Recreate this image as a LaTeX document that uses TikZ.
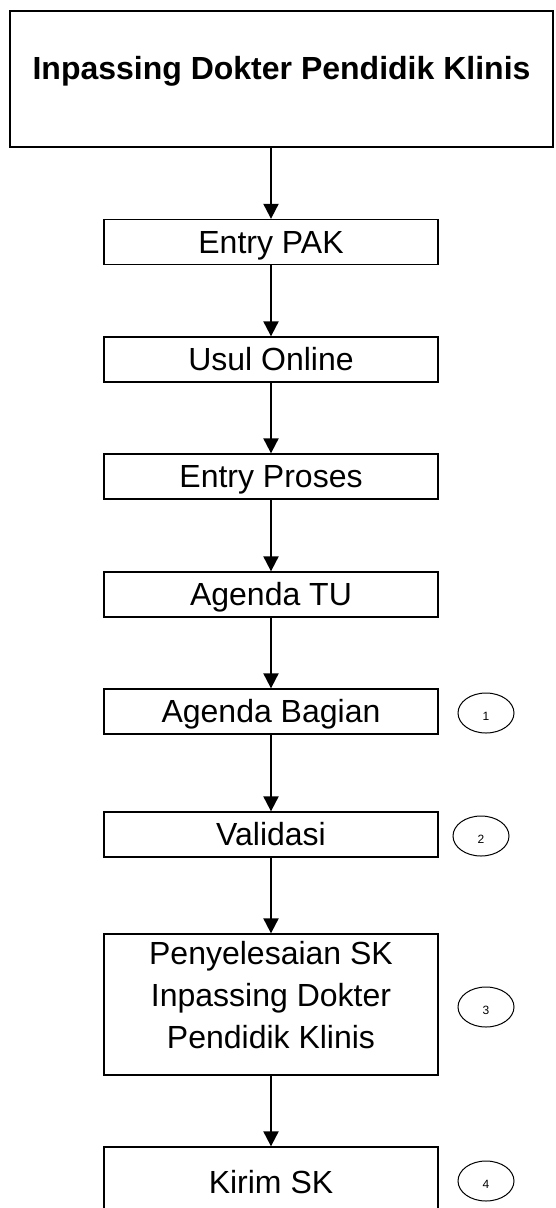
\documentclass[tikz,border=0pt]{standalone}
\usepackage{fontspec}
\setmainfont{Liberation Sans}
\usetikzlibrary{arrows.meta,shapes.geometric}

\begin{document}
\begin{tikzpicture}[x=1pt, y=-1pt,
    titlebox/.style={draw, line width=2pt, minimum width=543pt, minimum height=136pt,
        inner sep=0pt, text height=22.9pt, text depth=22.9pt,
        font=\fontsize{32}{42}\selectfont\bfseries},
    stepbox/.style={draw, line width=1.3pt, minimum width=334pt, minimum height=45pt,
        inner sep=0pt, align=center, text height=22.9pt, text depth=0pt,
        font=\fontsize{32}{42}\selectfont},
    marker/.style={draw, ellipse, line width=1pt, minimum width=56pt, minimum height=40pt,
        inner sep=0pt, text height=15pt, text depth=0pt, font=\fontsize{12}{12}\selectfont},
    flow/.style={-{Triangle[width=15pt,length=15pt]}, line width=2pt}]
    \useasboundingbox (0,0) rectangle (555,1208);
    \clip (0,0) rectangle (555,1208);

    % Title
    \node[titlebox] (title) at (281.5,79) {Inpassing Dokter Pendidik Klinis};

    % Steps
    \node[stepbox] (pak) at (271,242) {Entry PAK};
    \node[stepbox] (usul) at (271,359.5) {Usul Online};
    \node[stepbox] (proses) at (271,476.5) {Entry Proses};
    \node[stepbox] (tu) at (271,594.5) {Agenda TU};
    \node[stepbox] (bagian) at (271,711.5) {Agenda Bagian};
    \node[stepbox] (validasi) at (271,834.5) {Validasi};
    \node[stepbox, minimum height=141pt, text height=106.9pt, text depth=19pt] (selesai)
        at (271,1004.5) {Penyelesaian SK\\Inpassing Dokter\\Pendidik Klinis};
    \node[stepbox, minimum height=70pt] (kirim) at (271,1182) {Kirim SK};

    % Markers
    \node[marker] (m1) at (486,713) {1};
    \node[marker] (m2) at (481,836) {2};
    \node[marker] (m3) at (486,1007) {3};
    \node[marker] (m4) at (486,1181) {4};

    % Connections
    \draw[flow] (pak.north |- title.south) -- (pak.north);
    \foreach \from/\to in {pak/usul, usul/proses, proses/tu, tu/bagian,
        bagian/validasi, validasi/selesai, selesai/kirim} {
        \draw[flow] (\from.south) -- (\to.north);
    }
\end{tikzpicture}
\end{document}
